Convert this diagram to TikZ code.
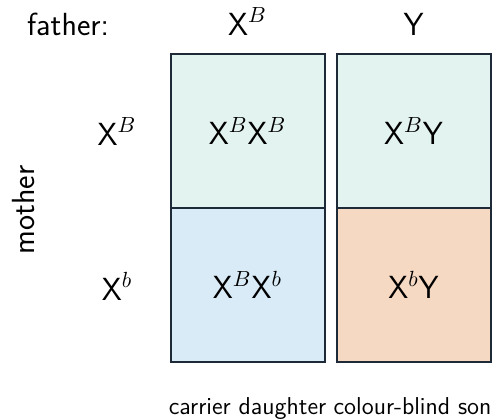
\documentclass[tikz,border=0pt]{standalone}
\usepackage{xcolor}
\definecolor{cellgreen}{HTML}{E3F3F0}
\definecolor{cellblue}{HTML}{D9EBF7}
\definecolor{cellorange}{HTML}{F6D9C3}
\definecolor{cellline}{HTML}{1F2A38}

\begin{document}
\begin{tikzpicture}[x=0.5pt, y=-0.5pt, every node/.style={font=\sffamily\fontsize{16}{19}\selectfont},
    cell/.style={draw=cellline, line width=1pt, minimum width=77pt, minimum height=77pt, inner sep=0pt},
    note/.style={anchor=base, font=\sffamily\fontsize{12.2}{14}\selectfont}]
  \useasboundingbox (0,0) rectangle (492,419);
  % parents
  \node[anchor=base] (father) at (68,35) {father:};
  \node[anchor=base] (fatherXB) at (247.5,35) {X$^B$};
  \node[anchor=base] (fatherY) at (413.5,35) {Y};
  \node[anchor=base, rotate=90] (mother) at (34,210) {mother};
  \node[anchor=base] (motherXB) at (117,145) {X$^B$};
  \node[anchor=base] (motherXb) at (117,300) {X$^b$};
  % offspring
  \node[cell, fill=cellgreen] (cellBB) at (247.5,131) {X$^B$X$^B$};
  \node[cell, fill=cellgreen] (cellBY) at (413.5,131) {X$^B$Y};
  \node[cell, fill=cellblue] (cellBb) at (247.5,285) {X$^B$X$^b$};
  \node[cell, fill=cellorange] (cellbY) at (413.5,285) {X$^b$Y};
  \node[note] (carrier) at (247.5,414) {carrier daughter};
  \node[note] (colourblind) at (412.5,414) {colour-blind son};
\end{tikzpicture}
\end{document}
